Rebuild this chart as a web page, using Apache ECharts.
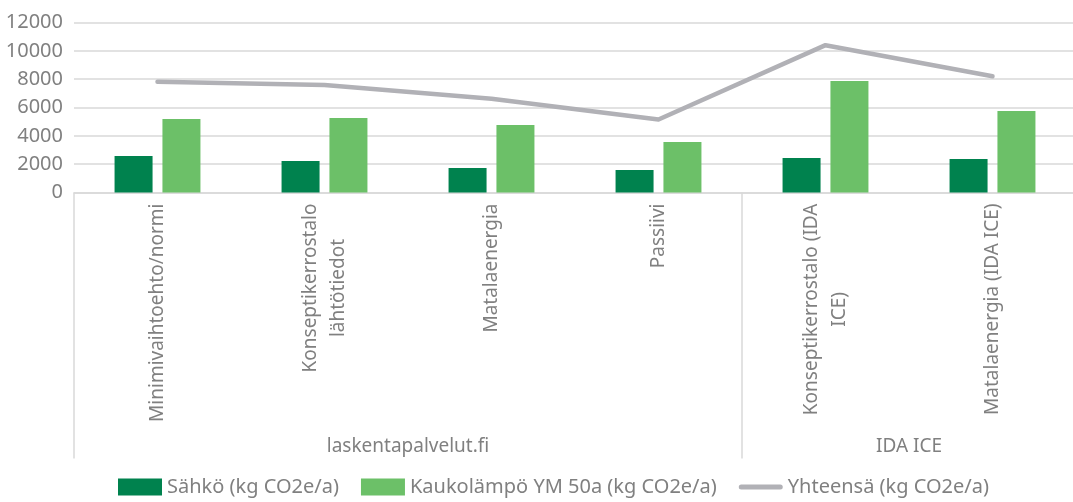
<!DOCTYPE html>
<html>
<head>
<meta charset="utf-8">
<script src="https://cdn.jsdelivr.net/npm/echarts@6/dist/echarts.min.js"></script>
<style>
  html, body { margin: 0; padding: 0; background: #ffffff; }
  #chart { width: 1073px; height: 502px; }
</style>
</head>
<body>
<div id="chart"></div>
<script>
// Categories (line breaks mark where the label wraps)
const categories = [
  'Minimivaihtoehto/normi',
  'Konseptikerrostalo\nlähtötiedot',
  'Matalaenergia',
  'Passiivi',
  'Konseptikerrostalo (IDA\nICE)',
  'Matalaenergia (IDA ICE)'
];
// Outer grouping level: name and number of categories in each group
const groupNames = ['laskentapalvelut.fi', 'IDA ICE'];
const groupSizes = [4, 2];

// Emissions, kg CO2e per year
const sahko = [2580, 2220, 1730, 1590, 2430, 2360];
const kaukolampo = [5190, 5260, 4760, 3560, 7870, 5750];
const yhteensa = [7820, 7590, 6620, 5150, 10400, 8200];

const seriesNames = ['Sähkö (kg CO2e/a)', 'Kaukolämpö YM 50a (kg CO2e/a)', 'Yhteensä (kg CO2e/a)'];
const yTicks = { min: 0, max: 12000, interval: 2000 };

const textColor = '#808080';
const fontFamily = '"Noto Sans", "DejaVu Sans", sans-serif';
const catFontSize = 19;
const catLineHeight = 28;
const catMargin = 11;

// Group boundaries (category indices) and group centres (in category units)
const boundaries = [0];
const groupCenters = [];
groupSizes.forEach((n) => {
  const start = boundaries[boundaries.length - 1];
  groupCenters.push(start + n / 2);
  boundaries.push(start + n);
});

// Single-line labels are drawn by the axis itself; wrapped ones are placed
// afterwards at the axis' own category positions with centred lines.
const isWrapped = categories.map(c => c.indexOf('\n') !== -1);
const axisLabels = categories.map((c, i) => (isWrapped[i] ? '' : c));

const lineColor = '#b1b1b6';
// legend glyph for the total line: a short thick bar with round ends
const lineIcon = 'path://M2.5,0 L41.5,0 A2.5,2.5 0 0 1 41.5,5 L2.5,5 A2.5,2.5 0 0 1 2.5,0 Z';

const chart = echarts.init(document.getElementById('chart'), null, { renderer: 'canvas' });

chart.setOption({
  backgroundColor: '#ffffff',
  animation: false,
  textStyle: { fontFamily: fontFamily },
  grid: {
    left: 74, width: 1002, top: 22.5, bottom: 309.5,
    containLabel: false, outerBoundsMode: 'none'
  },
  legend: {
    bottom: 0,
    left: 113,
    itemWidth: 44,
    itemHeight: 17,
    itemGap: 22,
    symbolKeepAspect: true,
    textStyle: { color: textColor, fontSize: 20, fontFamily: fontFamily },
    data: [
      { name: seriesNames[0], icon: 'rect' },
      { name: seriesNames[1], icon: 'rect' },
      { name: seriesNames[2], icon: lineIcon, itemStyle: { color: lineColor } }
    ]
  },
  xAxis: [
    {
      type: 'category',
      data: axisLabels,
      boundaryGap: true,
      axisLine: { show: true, lineStyle: { color: '#d9d9d9', width: 1.5 } },
      axisTick: {
        show: true,
        length: 266,
        interval: (index) => boundaries.indexOf(index) !== -1 && index < categories.length,
        lineStyle: { color: '#d9d9d9', width: 1.5 }
      },
      axisLabel: {
        interval: 0,
        rotate: 90,
        margin: catMargin,
        color: textColor,
        fontSize: catFontSize,
        lineHeight: catLineHeight,
        fontFamily: fontFamily
      },
      splitLine: { show: false }
    },
    {
      // outer level: group names centred under their categories
      type: 'value',
      position: 'bottom',
      min: 0,
      max: categories.length,
      interval: 1,
      offset: 245,
      axisLine: { show: false },
      axisTick: { show: false },
      splitLine: { show: false },
      axisLabel: {
        margin: 0,
        color: textColor,
        fontSize: 19,
        fontFamily: fontFamily,
        showMinLabel: true,
        showMaxLabel: true,
        formatter: (v) => {
          const i = groupCenters.indexOf(v);
          return i === -1 ? '' : groupNames[i];
        }
      }
    }
  ],
  yAxis: {
    type: 'value',
    min: yTicks.min,
    max: yTicks.max,
    interval: yTicks.interval,
    axisLine: { show: false },
    axisTick: { show: false },
    axisLabel: { color: textColor, fontSize: 20, margin: 11, fontFamily: fontFamily, formatter: (v) => String(v) },
    splitLine: { show: true, lineStyle: { color: '#d9d9d9', width: 1.5 } }
  },
  series: [
    {
      name: seriesNames[0],
      type: 'bar',
      data: sahko,
      barWidth: 38,
      barGap: '26%',
      itemStyle: { color: '#00824e' }
    },
    {
      name: seriesNames[1],
      type: 'bar',
      data: kaukolampo,
      barWidth: 38,
      barGap: '26%',
      itemStyle: { color: '#6cc068' }
    },
    {
      name: seriesNames[2],
      type: 'line',
      data: yhteensa,
      symbol: 'none',
      showSymbol: false,
      smooth: false,
      lineStyle: { color: lineColor, width: 4.5, cap: 'round', join: 'round' },
      itemStyle: { color: lineColor },
      z: 5
    }
  ]
});

// Wrapped category labels: each line rotated like the axis labels, lines side
// by side around the category centre and centred along the longest line.
const measureCtx = document.createElement('canvas').getContext('2d');
measureCtx.font = catFontSize + 'px ' + fontFamily;
const axisY = chart.convertToPixel({ yAxisIndex: 0 }, yTicks.min);
const wrappedTexts = [];
categories.forEach((label, i) => {
  if (!isWrapped[i]) return;
  const lines = label.split('\n');
  const maxW = Math.max.apply(null, lines.map(l => measureCtx.measureText(l).width));
  const cx = chart.convertToPixel({ xAxisIndex: 0 }, i);
  const cy = axisY + catMargin + maxW / 2;
  lines.forEach((l, j) => {
    const dx = (j - (lines.length - 1) / 2) * catLineHeight;
    wrappedTexts.push({
      type: 'text',
      x: cx + dx,
      y: cy,
      rotation: Math.PI / 2,
      silent: true,
      style: {
        text: l,
        fill: textColor,
        fontSize: catFontSize,
        fontFamily: fontFamily,
        align: 'center',
        verticalAlign: 'middle'
      }
    });
  });
});
chart.setOption({ graphic: wrappedTexts });
</script>
</body>
</html>
